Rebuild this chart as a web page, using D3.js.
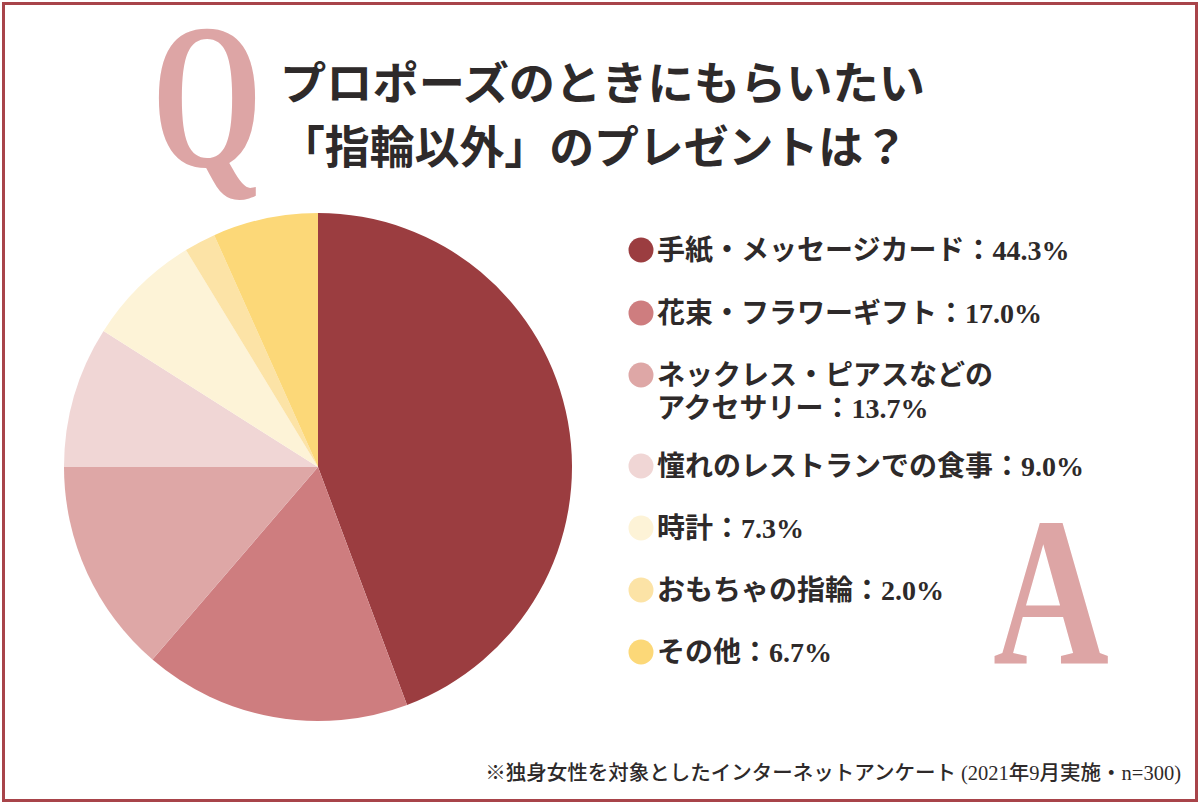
<!DOCTYPE html>
<html>
<head>
<meta charset="utf-8">
<script src="https://cdn.jsdelivr.net/npm/d3@7"></script>
<style>
  html, body { margin: 0; padding: 0; background: #fff; }
  svg { display: block; }
</style>
</head>
<body>
<svg id="chart" width="1200" height="803"></svg>
<script>
// ---- data ----
const categories = [
  "手紙・メッセージカード",
  "花束・フラワーギフト",
  "ネックレス・ピアスなどのアクセサリー",
  "憧れのレストランでの食事",
  "時計",
  "おもちゃの指輪",
  "その他"
];
const values = [44.3, 17.0, 13.7, 9.0, 7.3, 2.0, 6.7];
const palette = ["#9B3D40", "#CE7D7F", "#DEA7A6", "#F0D6D5", "#FDF3D7", "#FCE3A6", "#FCD878"];
const titleLines = ["プロポーズのときにもらいたい", "「指輪以外」のプレゼントは？"];
const footnote = "※独身女性を対象としたインターネットアンケート (2021年9月実施・n=300)";

// ---- drawing ----
const svg = d3.select("#chart");
const W = 1200, H = 803;
const jp = "'Liberation Serif', 'Noto Sans CJK JP', serif";
const textColor = "#2e2a2a";
const accent = "#DDA5A5";

svg.append("rect").attr("width", W).attr("height", H).attr("fill", "#fff");
svg.append("rect")
  .attr("x", 3.5).attr("y", 3.5).attr("width", W - 7).attr("height", H - 6)
  .attr("fill", "none").attr("stroke", "#A8444A").attr("stroke-width", 3);

// Q letter
svg.append("text")
  .attr("x", 152).attr("y", 166)
  .attr("font-family", "'Liberation Serif', serif")
  .attr("font-weight", 700)
  .attr("font-size", 208)
  .attr("textLength", 110)
  .attr("lengthAdjust", "spacingAndGlyphs")
  .attr("fill", accent)
  .text("Q");

// Title
svg.selectAll("text.title").data(titleLines).join("text")
  .attr("class", "title")
  .attr("x", 280)
  .attr("y", (d, i) => 100 + i * 64)
  .attr("font-family", "'Noto Sans CJK JP', sans-serif")
  .attr("font-weight", 700)
  .attr("font-size", 45)
  .attr("fill", textColor)
  .attr("textLength", (d, i) => i === 0 ? 645 : 628)
  .attr("lengthAdjust", "spacingAndGlyphs")
  .text(d => d);

// Pie
const cx = 318, cy = 467, R = 254;
const pie = d3.pie().sort(null).value(d => d.value).startAngle(0).endAngle(2 * Math.PI);
const arc = d3.arc().innerRadius(0).outerRadius(R);
const color = d3.scaleOrdinal().domain(categories).range(palette);
const data = categories.map((c, i) => ({ category: c, value: values[i] }));

svg.append("g").attr("transform", `translate(${cx},${cy})`)
  .selectAll("path").data(pie(data)).join("path")
  .attr("d", arc)
  .attr("fill", d => color(d.data.category));

// Legend
const fmt = d3.format(".1f");
const legendYs = d3.scaleOrdinal().domain(categories).range([250, 313, 375, 466, 528, 590, 652]);
const lg = svg.append("g");
data.forEach(d => {
  const y = legendYs(d.category);
  lg.append("circle").attr("cx", 641).attr("cy", y).attr("r", 12.5)
    .attr("fill", color(d.category));
  const full = d.category + "：" + fmt(d.value) + "%";
  let lines = [full];
  if (d.category.length > 14) {
    lines = [d.category.slice(0, 12), d.category.slice(12) + "：" + fmt(d.value) + "%"];
  }
  lines.forEach((ln, j) => {
    lg.append("text")
      .attr("x", 657)
      .attr("y", y + 10 + j * 33)
      .attr("font-family", jp)
      .attr("font-weight", 700)
      .attr("font-size", 28)
      .attr("fill", textColor)
      .text(ln);
  });
});

// A letter
svg.append("text")
  .attr("x", 993).attr("y", 663)
  .attr("font-family", "'Liberation Serif', serif")
  .attr("font-weight", 700)
  .attr("font-size", 213)
  .attr("textLength", 116)
  .attr("lengthAdjust", "spacingAndGlyphs")
  .attr("fill", accent)
  .text("A");

// Footnote
svg.append("text")
  .attr("x", 1181).attr("y", 780)
  .attr("text-anchor", "end")
  .attr("font-family", jp)
  .attr("font-weight", 500)
  .attr("font-size", 20.5)
  .attr("fill", textColor)
  .text(footnote);
</script>
</body>
</html>
